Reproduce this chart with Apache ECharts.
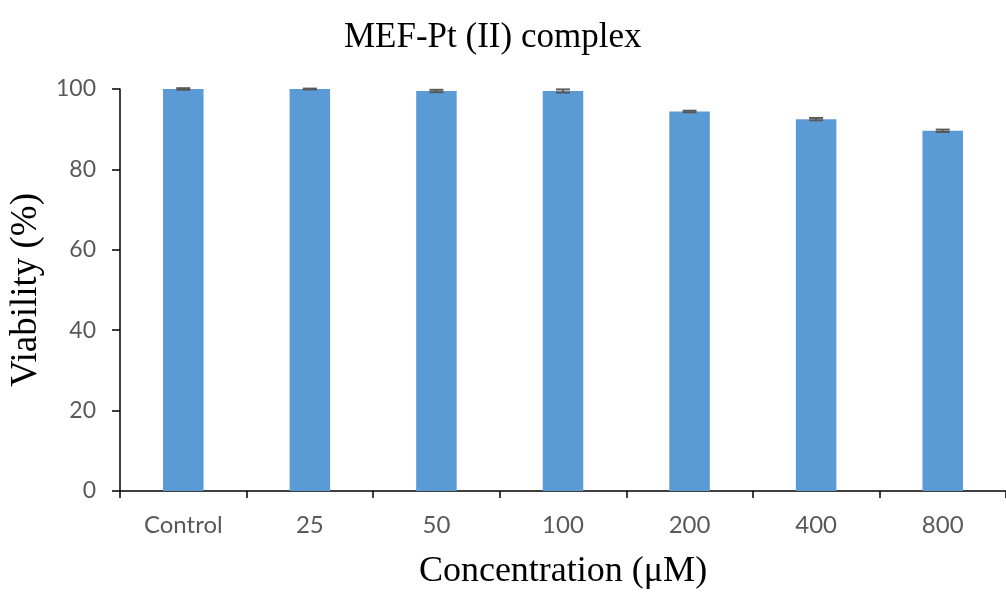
<!DOCTYPE html>
<html>
<head>
<meta charset="utf-8">
<script src="https://cdn.jsdelivr.net/npm/echarts@6/dist/echarts.min.js"></script>
<style>
html,body{margin:0;padding:0;background:#fff;}
#chart{width:1006px;height:595px;}
</style>
</head>
<body>
<div id="chart"></div>
<script>
var categories = ['Control', '25', '50', '100', '200', '400', '800'];
var viability = [100, 100, 99.5, 99.5, 94.4, 92.5, 89.6];
var errors = [0.2, 0.1, 0.3, 0.4, 0.2, 0.3, 0.3];

var errData = [];
for (var i = 0; i < viability.length; i++) {
	errData.push([i, viability[i] - errors[i], viability[i] + errors[i]]);
}

var chart = echarts.init(document.getElementById('chart'));
var option = {
	backgroundColor: '#fff',
	animation: false,
	title: {
		text: 'MEF-Pt (II) complex',
		left: 339,
		top: 15,
		textStyle: {
			fontFamily: 'Liberation Serif',
			fontWeight: 'normal',
			fontSize: 35,
			color: '#000'
		}
	},
	grid: {
		left: 120,
		right: -5,
		top: 89,
		bottom: 98,
		containLabel: false
	},
	xAxis: {
		type: 'category',
		data: categories,
		name: 'Concentration (\u03bcM)',
		nameLocation: 'middle',
		nameGap: 63,
		nameTextStyle: {
			fontFamily: 'Liberation Serif',
			fontSize: 36,
			color: '#000'
		},
		axisLine: {lineStyle: {color: '#000', width: 1.5}},
		axisTick: {show: true, length: 7, lineStyle: {color: '#000', width: 1.5}},
		axisLabel: {
			margin: 22,
			fontFamily: 'Lato',
			fontSize: 24,
			color: '#595959'
		},
		splitLine: {show: false}
	},
	yAxis: {
		type: 'value',
		min: 0,
		max: 100,
		interval: 20,
		name: 'Viability (%)',
		nameLocation: 'middle',
		nameGap: 75,
		nameTextStyle: {
			fontFamily: 'Liberation Serif',
			fontSize: 37,
			color: '#000'
		},
		axisLine: {show: true, lineStyle: {color: '#000', width: 1.5}},
		axisTick: {show: true, length: 8, lineStyle: {color: '#000', width: 1.5}},
		axisLabel: {
			margin: 24,
			fontFamily: 'Lato',
			fontSize: 23,
			color: '#595959'
		},
		splitLine: {show: false}
	},
	series: [
		{
			type: 'bar',
			data: viability,
			barWidth: '32%',
			itemStyle: {color: '#5B9BD5'}
		},
		{
			type: 'custom',
			data: errData,
			z: 10,
			renderItem: function (params, api) {
				var idx = api.value(0);
				var lo = api.coord([idx, api.value(1)]);
				var hi = api.coord([idx, api.value(2)]);
				var half = 7;
				var st = {stroke: '#595959', lineWidth: 2};
				return {
					type: 'group',
					children: [
						{type: 'line', shape: {x1: hi[0], y1: hi[1], x2: lo[0], y2: lo[1]}, style: st},
						{type: 'line', shape: {x1: hi[0] - half, y1: hi[1], x2: hi[0] + half, y2: hi[1]}, style: st},
						{type: 'line', shape: {x1: lo[0] - half, y1: lo[1], x2: lo[0] + half, y2: lo[1]}, style: st}
					]
				};
			}
		}
	]
};
chart.setOption(option);
</script>
</body>
</html>
